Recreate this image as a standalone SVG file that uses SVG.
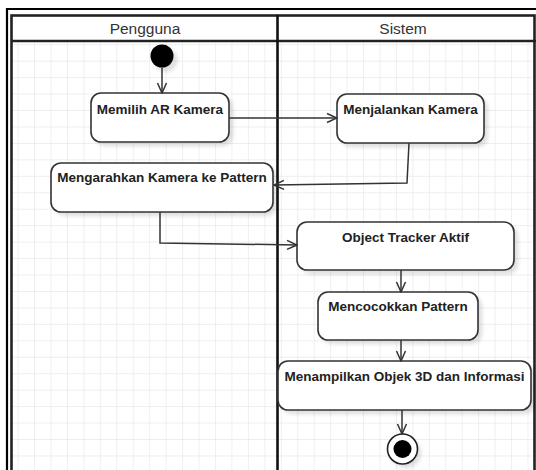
<svg xmlns="http://www.w3.org/2000/svg" width="536" height="470" viewBox="0 0 536 470">
<defs>
<pattern id="grid" x="2.1" y="12.3" width="16.45" height="16.45" patternUnits="userSpaceOnUse">
<path d="M16.45 0V16.45M0 16.45H16.45" fill="none" stroke="#e9e9e9" stroke-width="1.4"/>
</pattern>
<filter id="sh" x="-20%" y="-20%" width="150%" height="160%">
<feGaussianBlur stdDeviation="2"/>
</filter>
<marker id="arr" viewBox="0 0 12 12" refX="11" refY="6" markerWidth="12" markerHeight="12" markerUnits="userSpaceOnUse" orient="auto">
<path d="M1 1.5L11 6L1 10.5" fill="none" stroke="#333" stroke-width="1.5"/>
</marker>
<style>
.box{fill:#fff;stroke:#333;stroke-width:1.6}
.shadow{fill:#000;opacity:0.13;filter:url(#sh)}
.lbl{font-family:"Liberation Sans",Arial,sans-serif;font-weight:bold;font-size:13.5px;fill:#222;text-anchor:middle}
.hdr{font-family:"Liberation Sans",Arial,sans-serif;font-size:15.5px;fill:#333;text-anchor:middle}
.con{fill:none;stroke:#333;stroke-width:1.5;marker-end:url(#arr)}
</style>
</defs>
<rect width="536" height="470" fill="#fff"/>
<rect x="11" y="41" width="524" height="432" fill="url(#grid)"/>
<g id="frame">
<path d="M7 470V9H536" fill="none" stroke="#000" stroke-width="2.2"/>
<rect x="11.5" y="15.5" width="523" height="470" fill="none" stroke="#222" stroke-width="2.6"/>
<line x1="11" y1="41" x2="536" y2="41" stroke="#222" stroke-width="2.6"/>
<line x1="277.5" y1="15" x2="277.5" y2="470" stroke="#111" stroke-width="2.6"/>
</g>
<g id="lane-pengguna"><text class="hdr" x="145" y="34">Pengguna</text></g>
<g id="lane-sistem"><text class="hdr" x="403" y="34">Sistem</text></g>
<g id="start">
<circle class="shadow" cx="166" cy="60" r="11.5"/>
<circle cx="162" cy="56" r="11.5" fill="#000"/>
</g>
<g id="memilih">
<rect class="shadow" x="95" y="97" width="138" height="49" rx="10"/>
<rect class="box" x="91" y="93" width="138" height="49" rx="10"/>
<text class="lbl" x="160" y="114">Memilih AR Kamera</text>
</g>
<g id="menjalankan">
<rect class="shadow" x="341" y="98" width="147" height="49" rx="10"/>
<rect class="box" x="337" y="94" width="147" height="49" rx="10"/>
<text class="lbl" x="410.5" y="114">Menjalankan Kamera</text>
</g>
<g id="mengarahkan">
<rect class="shadow" x="55" y="167" width="222" height="49" rx="10"/>
<rect class="box" x="51" y="163" width="222" height="49" rx="10"/>
<text class="lbl" x="162" y="182">Mengarahkan Kamera ke Pattern</text>
</g>
<g id="tracker">
<rect class="shadow" x="301" y="226" width="217" height="48" rx="10"/>
<rect class="box" x="297" y="222" width="217" height="48" rx="10"/>
<text class="lbl" x="405.5" y="242">Object Tracker Aktif</text>
</g>
<g id="mencocokkan">
<rect class="shadow" x="322" y="296" width="160" height="48" rx="10"/>
<rect class="box" x="318" y="292" width="160" height="48" rx="10"/>
<text class="lbl" x="398" y="310.5">Mencocokkan Pattern</text>
</g>
<g id="menampilkan">
<rect class="shadow" x="282" y="365" width="253" height="49" rx="10"/>
<rect class="box" x="278" y="361" width="253" height="49" rx="10"/>
<text class="lbl" x="404.5" y="381">Menampilkan Objek 3D dan Informasi</text>
</g>
<g id="end">
<circle class="shadow" cx="406" cy="453" r="15"/>
<circle cx="402.5" cy="449" r="15" fill="#fff" stroke="#222" stroke-width="1.6"/>
<circle cx="402.5" cy="449" r="9" fill="#000"/>
</g>
<g id="connectors">
<path class="con" d="M162 67.5V93"/>
<path class="con" d="M229 118H337"/>
<path class="con" d="M409 143L407 183L274 185"/>
<path class="con" d="M160 212V243L297 245"/>
<path class="con" d="M401 270V292"/>
<path class="con" d="M401 340V361"/>
<path class="con" d="M402 410V434"/>
</g>
</svg>
